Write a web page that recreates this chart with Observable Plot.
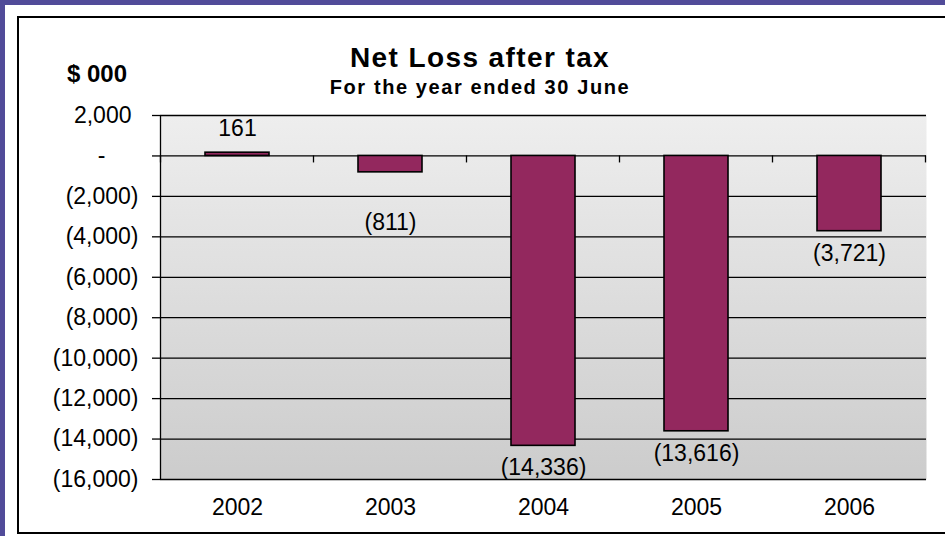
<!DOCTYPE html>
<html>
<head>
<meta charset="utf-8">
<script src="https://cdn.jsdelivr.net/npm/d3@7"></script>
<script src="https://cdn.jsdelivr.net/npm/@observablehq/plot@0.6"></script>
<style>
  html, body { margin: 0; padding: 0; background: #fff; overflow: hidden; }
  #wrap { position: relative; width: 945px; height: 536px; overflow: hidden; background: #fff;
          font-family: "Liberation Sans", Arial, sans-serif; }
  .band-top { position: absolute; left: 0; top: 0; width: 945px; height: 5px; background: #514B99; }
  .band-left { position: absolute; left: 0; top: 0; width: 5px; height: 536px; background: #514B99; }
  .ln-top { position: absolute; left: 17px; top: 16px; width: 928px; height: 2px; background: #000; }
  .ln-left { position: absolute; left: 17px; top: 16px; width: 2px; height: 518px; background: #000; }
  .ln-bottom { position: absolute; left: 17px; top: 532px; width: 928px; height: 2px; background: #000; }
  #chart { position: absolute; left: 0; top: 0; width: 945px; height: 536px; overflow: hidden; }
  #chart svg { display: block; }
  .title { position: absolute; left: 230px; width: 500px; text-align: center; font-weight: bold; color: #000; white-space: nowrap; }
  #t1 { top: 42px; font-size: 28px; letter-spacing: 1.4px; }
  #t2 { top: 76px; font-size: 20px; letter-spacing: 1.6px; }
  #unit { position: absolute; left: 67px; top: 60px; font-size: 24px; font-weight: bold; }
</style>
</head>
<body>
<div id="wrap">
  <div class="band-top"></div>
  <div class="band-left"></div>
  <div class="ln-top"></div>
  <div class="ln-left"></div>
  <div class="ln-bottom"></div>
  <div id="chart"></div>
  <div class="title" id="t1">Net Loss after tax</div>
  <div class="title" id="t2">For the year ended 30 June</div>
  <div id="unit">$ 000</div>
</div>
<script>
const years = ["2002", "2003", "2004", "2005", "2006"];
const netLoss = [161, -811, -14336, -13616, -3721];
const yTicks = [2000, 0, -2000, -4000, -6000, -8000, -10000, -12000, -14000, -16000];

const data = years.map((year, i) => ({year, value: netLoss[i]}));

const fmtNum = d3.format(",");
const labelText = v => v < 0 ? `(${fmtNum(-v)})` : fmtNum(v);

const barColor = "#93285E";
const font = "Liberation Sans, Arial, sans-serif";
const padInner = 0.58;

const chart = Plot.plot({
  width: 945,
  height: 536,
  marginLeft: 160,
  marginRight: 19,
  marginTop: 115,
  marginBottom: 57,
  style: {background: "transparent", fontFamily: font, fontSize: "23px", color: "#000"},
  x: {domain: years, paddingInner: padInner, paddingOuter: padInner / 2, axis: null},
  y: {domain: [-16000, 2000], axis: null},
  marks: [
    () => {
      const defs = d3.create("svg:defs");
      const g = defs.append("linearGradient").attr("id", "plotbg")
        .attr("x1", 0).attr("y1", 0).attr("x2", 0).attr("y2", 1);
      g.append("stop").attr("offset", "0%").attr("stop-color", "#eeeeee");
      g.append("stop").attr("offset", "100%").attr("stop-color", "#cccccc");
      return defs.node();
    },
    Plot.frame({fill: "url(#plotbg)", stroke: "none"}),
    Plot.axisY({ticks: yTicks, tickSize: 8, tickFormat: () => "", label: null, stroke: "#000", strokeWidth: 1.3}),
    Plot.ruleY(yTicks, {stroke: "#000", strokeWidth: 1.3}),
    // left axis line and category boundary ticks on the zero line, drawn from the scales
    (index, scales) => {
      const x = scales.x, y = scales.y;
      const bw = x.bandwidth();
      const step = x.step ? x.step() : bw / (1 - padInner);
      const off = (step - bw) / 2;
      const g = d3.create("svg:g").attr("stroke", "#000").attr("stroke-width", 1.3);
      const x0 = x(years[0]) - off;
      g.append("line").attr("x1", x0).attr("x2", x0).attr("y1", y(2000)).attr("y2", y(-16000));
      const bounds = years.map(yr => x(yr) - off).concat([x(years[years.length - 1]) + bw + off]);
      for (const b of bounds) {
        g.append("line").attr("x1", b).attr("x2", b).attr("y1", y(0)).attr("y2", y(0) + 7);
      }
      return g.node();
    },
    Plot.barY(data, {x: "year", y: "value", fill: barColor, stroke: "#000", strokeWidth: 1.6}),
    // y tick labels (accounting style)
    Plot.text(yTicks.filter(v => v > 0), {y: d => d, text: d => fmtNum(d), frameAnchor: "left", textAnchor: "end", dx: -29, fontSize: 23}),
    Plot.text(yTicks.filter(v => v < 0), {y: d => d, text: d => `(${fmtNum(-d)})`, frameAnchor: "left", textAnchor: "end", dx: -22, fontSize: 23}),
    Plot.text(yTicks.filter(v => v === 0), {y: d => d, text: () => "-", frameAnchor: "left", textAnchor: "end", dx: -55, fontSize: 23}),
    // x labels
    Plot.text(years, {x: d => d, text: d => d, frameAnchor: "bottom", lineAnchor: "top", dy: 19, fontSize: 23}),
    // data labels
    Plot.text(data.filter(d => d.value > 0), {x: "year", y: "value", text: d => labelText(d.value), dy: -24, fontSize: 23}),
    Plot.text(data.filter(d => d.value < 0 && d.year !== "2003"), {x: "year", y: "value", text: d => labelText(d.value), dy: 22, fontSize: 23}),
    Plot.text(data.filter(d => d.year === "2003"), {x: "year", y: "value", text: d => labelText(d.value), dy: 50, fontSize: 23})
  ]
});
document.getElementById("chart").appendChild(chart);
</script>
</body>
</html>
